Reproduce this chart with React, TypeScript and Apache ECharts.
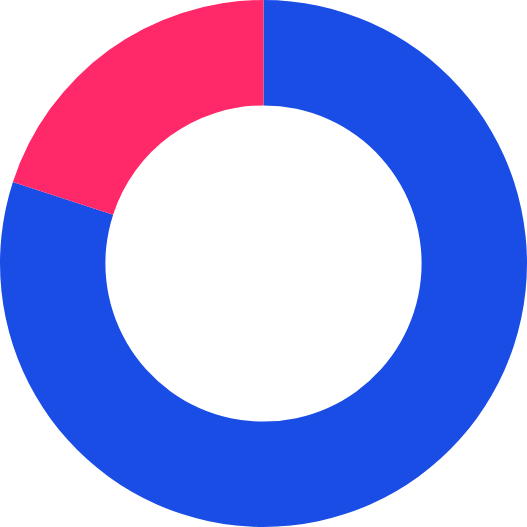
import { useEffect, useRef } from 'react';
import * as echarts from 'echarts';

const categories = ['Blue', 'Pink'];
const values = [80, 20];
const colors = ['#1a4ce6', '#ff2868'];

export default function App() {
    const chartRef = useRef<HTMLDivElement>(null);

    useEffect(() => {
        const myChart = echarts.init(chartRef.current, null, { renderer: 'svg' });

        myChart.setOption({
            animation: false,
            series: [
                {
                    type: 'pie',
                    center: ['50%', '50%'],
                    radius: ['60%', '100%'],
                    startAngle: 90,
                    clockwise: true,
                    label: { show: false },
                    labelLine: { show: false },
                    emphasis: { disabled: true },
                    itemStyle: { borderWidth: 0 },
                    data: categories.map((name, i) => ({
                        name,
                        value: values[i],
                        itemStyle: { color: colors[i] },
                    })),
                },
            ],
        });

        return () => {
            myChart.dispose();
        };
    }, []);

    return (
        <div
            ref={chartRef}
            style={{ position: 'fixed', left: 0, top: 0, width: '527px', height: '527px' }}
        />
    );
}
